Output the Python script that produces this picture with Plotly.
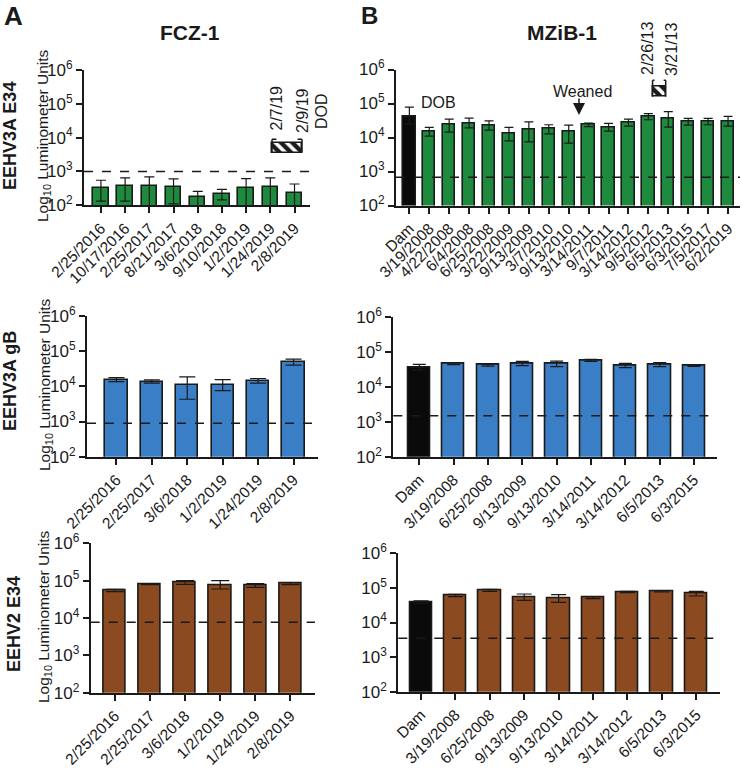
import plotly.graph_objects as go

FONT = "Arial, Liberation Sans, sans-serif"
INK = "#1a1a1a"
GREEN = "#1e8a3e"
BLUE = "#3a7fc6"
BROWN = "#8b4a1f"
DAM = "#0a0a0a"
W, H = 742, 771

# ---------------- data ----------------
# Panel A1: FCZ-1, EEHV3A E34
a1_dates = ["2/25/2016", "10/17/2016", "2/25/2017", "8/21/2017", "3/6/2018",
            "9/10/2018", "1/2/2019", "1/24/2019", "2/8/2019"]
a1_mean = [331, 380, 363, 347, 182, 214, 316, 347, 229]
a1_upper = [550, 646, 692, 603, 257, 295, 617, 646, 427]
a1_lower = [132, 132, 70, 110, 70, 145, 70, 70, 70]
a1_cutoff = 1000

# Panel B1: MZiB-1, EEHV3A E34
b1_dates = ["Dam", "3/19/2008", "4/22/2008", "6/4/2008", "6/25/2008", "3/22/2009",
            "9/13/2009", "3/7/2010", "9/13/2010", "3/14/2011", "9/7/2011",
            "3/14/2012", "9/5/2012", "6/5/2013", "6/3/2015", "7/5/2017", "6/2/2019"]
b1_mean = [41000, 15000, 23700, 26500, 22600, 13400, 17200, 18000, 14700,
           23700, 19300, 27700, 40800, 37200, 29700, 30400, 30400]
b1_upper = [78000, 19800, 34700, 37300, 31000, 19800, 29000, 23700, 23200,
            26500, 25900, 34700, 50100, 57400, 36400, 36400, 41800]
b1_lower = [25000, 11000, 14400, 19300, 16500, 8000, 7450, 12800, 6800,
            21000, 15400, 21600, 33300, 20200, 23200, 23700, 21600]
b1_cutoff = 680

# Panel A2: FCZ-1, EEHV3A gB
a2_dates = ["2/25/2016", "2/25/2017", "3/6/2018", "1/2/2019", "1/24/2019", "2/8/2019"]
a2_mean = [15300, 13700, 11000, 11000, 14300, 48700]
a2_upper = [17800, 15300, 18600, 15600, 16700, 59300]
a2_lower = [13700, 12300, 4300, 7600, 12300, 40000]
a2_cutoff = 890

# Panel B2: MZiB-1, EEHV3A gB
b2_dates = ["Dam", "3/19/2008", "6/25/2008", "9/13/2009", "9/13/2010",
            "3/14/2011", "3/14/2012", "6/5/2013", "6/3/2015"]
b2_mean = [35700, 45400, 41600, 46400, 44400, 56500, 39800, 41600, 39800]
b2_upper = [43500, 48500, 44400, 53000, 54100, 60400, 46400, 48500, 41600]
b2_lower = [30000, 42500, 38900, 39800, 37300, 53000, 34900, 37300, 38000]
b2_cutoff = 1480

# Panel A3: FCZ-1, EEHV2 E34
a3_dates = ["2/25/2016", "2/25/2017", "3/6/2018", "1/2/2019", "1/24/2019", "2/8/2019"]
a3_mean = [54000, 79800, 88400, 76500, 73400, 83200]
a3_upper = [58600, 81000, 100000, 100000, 83200, 88400]
a3_lower = [50700, 78500, 79800, 59800, 66200, 78200]
a3_cutoff = 7650

# Panel B3: MZiB-1, EEHV2 E34
b3_dates = ["Dam", "3/19/2008", "6/25/2008", "9/13/2009", "9/13/2010",
            "3/14/2011", "3/14/2012", "6/5/2013", "6/3/2015"]
b3_mean = [38300, 59700, 85100, 52200, 48900, 52200, 76200, 79700, 68200]
b3_upper = [41900, 65200, 91000, 66700, 63800, 55800, 79700, 83300, 79700]
b3_lower = [36000, 55800, 79700, 43700, 38300, 48900, 72900, 76200, 58400]
b3_cutoff = 3480

# hatched event boxes (x in category units, y in data units)
a_event = dict(x0=7.07, x1=8.31, y0=3550, y1=6730, top=9030)
b_event = dict(x0=12.21, x1=12.87, y0=156700, y1=323000, top=485000)

y_tickvals = [1e2, 1e3, 1e4, 1e5, 1e6]
y_ticktext = ["10<sup>2</sup>", "10<sup>3</sup>", "10<sup>4</sup>",
              "10<sup>5</sup>", "10<sup>6</sup>"]

# ---------------- layout geometry (pixels) ----------------
panels = [
    dict(d=a1_dates, m=a1_mean, u=a1_upper, l=a1_lower, c=a1_cutoff, col=GREEN,
         xp=(84, 310), xr=(-0.70, 8.64), yp=(70, 205.3), bw=0.64, cap=5),
    dict(d=b1_dates, m=b1_mean, u=b1_upper, l=b1_lower, c=b1_cutoff, col=GREEN,
         xp=(396, 740), xr=(-0.67, 16.6), yp=(69.5, 205.5), bw=0.62, cap=4.5),
    dict(d=a2_dates, m=a2_mean, u=a2_upper, l=a2_lower, c=a2_cutoff, col=BLUE,
         xp=(87, 318), xr=(-0.83, 5.69), yp=(316, 456.7), bw=0.63, cap=8),
    dict(d=b2_dates, m=b2_mean, u=b2_upper, l=b2_lower, c=b2_cutoff, col=BLUE,
         xp=(393.3, 717), xr=(-0.757, 8.67), yp=(316.7, 456.7), bw=0.65, cap=6.5),
    dict(d=a3_dates, m=a3_mean, u=a3_upper, l=a3_lower, c=a3_cutoff, col=BROWN,
         xp=(90.7, 315), xr=(-0.69, 5.70), yp=(543.3, 692.7), bw=0.63, cap=9),
    dict(d=b3_dates, m=b3_mean, u=b3_upper, l=b3_lower, c=b3_cutoff, col=BROWN,
         xp=(398.3, 720), xr=(-0.66, 8.69), yp=(553.3, 691.7), bw=0.65, cap=7.5),
]


def fx(px):
    return px / W


def fy(py):
    return 1 - py / H


fig = go.Figure()
shapes = []
annotations = []
layout = {}

for i, p in enumerate(panels, start=1):
    xa = "x" if i == 1 else f"x{i}"
    ya = "y" if i == 1 else f"y{i}"
    n = len(p["d"])
    colors = [DAM if lab == "Dam" else p["col"] for lab in p["d"]]
    fig.add_trace(go.Bar(
        x=list(range(n)), y=p["m"], xaxis=xa, yaxis=ya,
        width=p["bw"],
        marker=dict(color=colors, line=dict(color=INK, width=1.6)),
        error_y=dict(type="data", symmetric=False,
                     array=[u - m for u, m in zip(p["u"], p["m"])],
                     arrayminus=[m - l for m, l in zip(p["m"], p["l"])],
                     color=INK, thickness=1.2, width=p["cap"]),
        showlegend=False, hoverinfo="skip",
    ))
    layout["xaxis" if i == 1 else f"xaxis{i}"] = dict(
        domain=[fx(p["xp"][0]), fx(p["xp"][1])], anchor=ya, automargin=False,
        range=list(p["xr"]), tickmode="array", tickvals=list(range(n)),
        ticktext=p["d"], tickangle=-45, ticks="outside", ticklen=6, tickwidth=1.5,
        tickcolor=INK, showline=True, linewidth=2, linecolor=INK,
        showgrid=False, zeroline=False,
        tickfont=dict(family=FONT, size=15.5, color=INK), fixedrange=True,
    )
    layout["yaxis" if i == 1 else f"yaxis{i}"] = dict(
        domain=[fy(p["yp"][1]), fy(p["yp"][0])], anchor=xa, automargin=False,
        type="log", range=[2, 6], tickmode="array", tickvals=y_tickvals,
        ticktext=y_ticktext, ticks="outside", ticklen=6, tickwidth=1.5,
        tickcolor=INK, showline=True, linewidth=2, linecolor=INK,
        showgrid=False, zeroline=False,
        tickfont=dict(family=FONT, size=17, color=INK), fixedrange=True,
    )
    # detection cutoff dashed line
    shapes.append(dict(type="line", xref=f"{xa} domain", yref=ya, x0=0, x1=1,
                       y0=p["c"], y1=p["c"],
                       line=dict(color=INK, width=1.5, dash="dash")))


# hatched event boxes
def event_box(ev, xa, ya):
    fig.add_trace(go.Bar(
        x=[(ev["x0"] + ev["x1"]) / 2], y=[ev["y1"] - ev["y0"]], base=[ev["y0"]],
        width=[ev["x1"] - ev["x0"]], xaxis=xa, yaxis=ya,
        marker=dict(color="white", line=dict(color=INK, width=1.5),
                    pattern=dict(shape="\\", fgcolor=INK, bgcolor="white",
                                 size=8, solidity=0.55)),
        showlegend=False, hoverinfo="skip",
    ))
    serif = (ev["x1"] - ev["x0"]) * 0.15
    for xv, sd in ((ev["x0"], 1), (ev["x1"], -1)):
        shapes.append(dict(type="line", xref=xa, yref=ya, x0=xv, x1=xv,
                           y0=ev["y0"], y1=ev["top"], line=dict(color=INK, width=1.5)))
        shapes.append(dict(type="line", xref=xa, yref=ya, x0=xv, x1=xv + sd * serif,
                           y0=ev["top"], y1=ev["top"], line=dict(color=INK, width=1.5)))


event_box(a_event, "x", "y")
event_box(b_event, "x2", "y2")


def text(px, py, s, size=16, bold=False, angle=0):
    annotations.append(dict(
        xref="paper", yref="paper", x=fx(px), y=fy(py), text=f"<b>{s}</b>" if bold else s,
        showarrow=False, textangle=angle, xanchor="center", yanchor="middle",
        font=dict(family=FONT, size=size, color=INK)))


# panel letters and titles
text(13, 16, "A", size=26, bold=True)
text(369, 15, "B", size=24, bold=True)
text(190, 33, "FCZ-1", size=21, bold=True)
text(562, 33, "MZiB-1", size=21, bold=True)
# row labels
text(10, 136, "EEHV3A E34", size=18, bold=True, angle=-90)
text(10, 381, "EEHV3A gB", size=18, bold=True, angle=-90)
text(14, 624, "EEHV2 E34", size=18, bold=True, angle=-90)
# y axis titles
ytitle = "Log<sub>10</sub> Luminometer Units"
text(43, 136, ytitle, size=15.5, angle=-90)
text(45, 385, ytitle, size=15.5, angle=-90)
text(44, 617, ytitle, size=15.5, angle=-90)
# event labels
text(276.5, 108, "2/7/19", size=16, angle=-90)
text(302.5, 110.5, "2/9/19", size=16, angle=-90)
text(321.5, 111.5, "DOD", size=16, angle=-90)
text(647, 49, "2/26/13", size=16, angle=-90)
text(672, 50, "3/21/13", size=16, angle=-90)
text(438, 103, "DOB", size=16)
text(582, 91, "Weaned", size=16)
annotations.append(dict(xref="paper", yref="paper", x=fx(579), y=fy(115),
                        ax=0, ay=-18, text="", showarrow=True, arrowhead=2,
                        arrowsize=1.6, arrowwidth=1.5, arrowcolor=INK, standoff=0))

fig.update_layout(
    **layout,
    template="none",
    width=W, height=H, margin=dict(l=0, r=0, t=0, b=0, autoexpand=False),
    paper_bgcolor="white", plot_bgcolor="white",
    barmode="overlay", bargap=0, showlegend=False,
    shapes=shapes, annotations=annotations,
    font=dict(family=FONT, color=INK),
)

fig.write_html("out.html", post_script="document.body.style.margin='0';",
               config={"displayModeBar": False})
